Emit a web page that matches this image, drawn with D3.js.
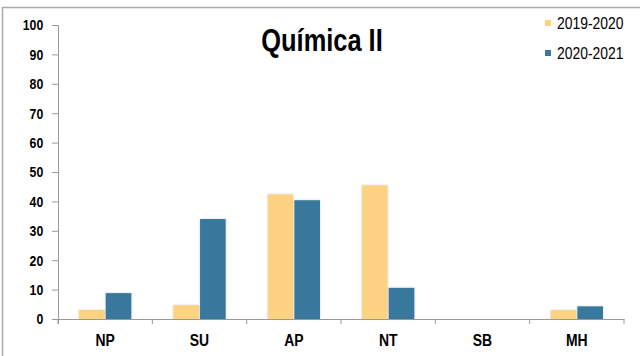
<!DOCTYPE html>
<html>
<head>
<meta charset="utf-8">
<script src="https://cdn.jsdelivr.net/npm/d3@7"></script>
<style>
  body { margin: 0; background: #fff; }
  svg { display: block; }
  .axis text { font-family: "Liberation Sans", Arial, sans-serif; font-weight: bold; fill: #000; }
</style>
</head>
<body>
<div id="chart"></div>
<script>
var categories = ["NP", "SU", "AP", "NT", "SB", "MH"];
var seriesNames = ["2019-2020", "2020-2021"];
var values2019 = [3.1, 4.7, 42.4, 45.5, 0, 3.0];
var values2020 = [8.8, 34.0, 40.4, 10.6, 0, 4.3];
var yTicks = [0, 10, 20, 30, 40, 50, 60, 70, 80, 90, 100];
var colors = ["#fdd283", "#37789c"];

var w = 640, h = 356;
var margin = { top: 25, right: 16, bottom: 37, left: 58 };
var narrow = "scale(0.82,1)";

var data = categories.map(function (c, i) {
    return { cat: c, vals: [values2019[i], values2020[i]] };
});

var svg = d3.select("#chart")
    .append("svg")
    .attr("width", w)
    .attr("height", h);

// outer frame (top and left edges visible)
svg.append("line")
    .attr("x1", 2).attr("x2", w)
    .attr("y1", 7.5).attr("y2", 7.5)
    .style("stroke", "#aaa").style("stroke-width", 1.5);
svg.append("line")
    .attr("x1", 2.5).attr("x2", 2.5)
    .attr("y1", 7).attr("y2", h)
    .style("stroke", "#aaa").style("stroke-width", 1.5);

var defs = svg.append("defs");
var shadow = defs.append("filter").attr("id", "shadow")
    .attr("x", "-20%").attr("y", "-10%").attr("width", "140%").attr("height", "120%");
shadow.append("feDropShadow")
    .attr("dx", 0).attr("dy", 0).attr("stdDeviation", 1)
    .attr("flood-color", "#000").attr("flood-opacity", 0.18);

var g = svg.append("g")
    .attr("transform", "translate(" + margin.left + "," + margin.top + ")");

var pw = 624 - margin.left;
var ph = 319 - margin.top;

var x0 = d3.scaleBand()
    .domain(categories)
    .range([0, pw]);

var x1 = d3.scaleBand()
    .domain(d3.range(seriesNames.length))
    .range([21, x0.bandwidth() - 21])
    .paddingInner(0.04);

var y = d3.scaleLinear()
    .domain([0, 100])
    .range([ph, 0]);

// bars
var groups = g.selectAll(".grp")
    .data(data)
    .enter().append("g")
    .attr("class", "grp")
    .attr("transform", function (d) { return "translate(" + x0(d.cat) + ",0)"; });

groups.selectAll("rect")
    .data(function (d) { return d.vals.filter(function (v) { return v > 0; }).length ? d.vals : []; })
    .enter().append("rect")
    .attr("x", function (d, i) { return x1(i); })
    .attr("y", function (d) { return y(d); })
    .attr("width", x1.bandwidth())
    .attr("height", function (d) { return ph - y(d); })
    .attr("filter", "url(#shadow)")
    .style("fill", function (d, i) { return colors[i]; });

// Y axis
var yAxis = g.append("g")
    .attr("class", "axis")
    .call(d3.axisLeft(y).tickValues(yTicks).tickSize(6).tickPadding(12));
yAxis.selectAll("text").style("font-size", "15px").attr("transform", narrow);

// X axis
var xAxis = g.append("g")
    .attr("class", "axis")
    .attr("transform", "translate(0," + ph + ")")
    .call(d3.axisBottom(x0).tickSize(0).tickPadding(15));
xAxis.selectAll("text").style("font-size", "17px").attr("transform", narrow);

// category boundary ticks
xAxis.selectAll(".bound")
    .data(d3.range(categories.length + 1))
    .enter().append("line")
    .attr("class", "bound")
    .attr("x1", function (d) { return d * x0.step(); })
    .attr("x2", function (d) { return d * x0.step(); })
    .attr("y1", 0).attr("y2", 5)
    .style("stroke", "#999");

svg.selectAll(".axis path, .axis line").style("stroke", "#999");
yAxis.select(".domain").attr("d", "M-6,0.5H0.5V" + (ph + 5));

// title
svg.append("text")
    .attr("transform", "translate(322,51) " + narrow)
    .attr("text-anchor", "middle")
    .style("font-family", "'Liberation Sans', Arial, sans-serif")
    .style("font-weight", "bold")
    .style("font-size", "31px")
    .text("Química II");

// legend
var legend = svg.selectAll(".legend")
    .data(seriesNames)
    .enter().append("g")
    .attr("class", "legend")
    .attr("transform", function (d, i) { return "translate(545," + (23 + i * 30) + ")"; });

legend.append("rect")
    .attr("x", 0).attr("y", -3)
    .attr("width", 6).attr("height", 6)
    .style("fill", function (d, i) { return colors[i]; });

legend.append("text")
    .attr("transform", "translate(12,0) " + narrow)
    .attr("dy", "0.34em")
    .style("font-family", "'Liberation Sans', Arial, sans-serif")
    .style("font-size", "17px")
    .text(function (d) { return d; });
</script>
</body>
</html>
